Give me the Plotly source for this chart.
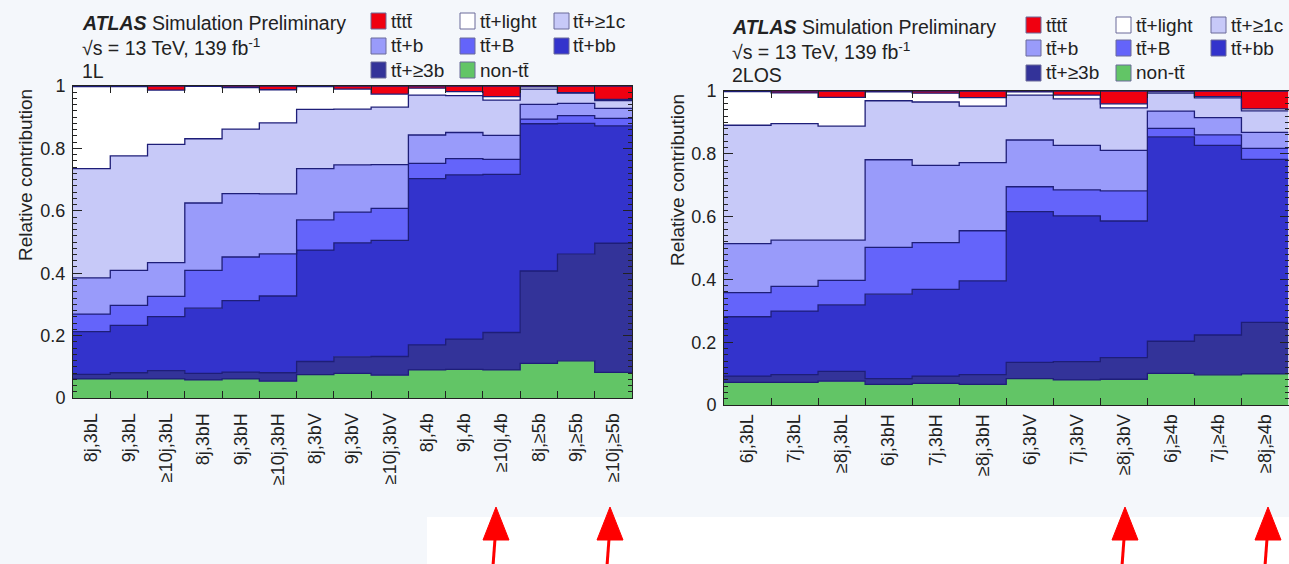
import numpy as np
import plotly.graph_objects as go

W, H = 1289, 564

# ---------------- data ----------------
series_names = ["non-tt\u0304", "tt\u0304+\u22653b", "tt\u0304+bb", "tt\u0304+B", "tt\u0304+b",
                "tt\u0304+\u22651c", "tt\u0304+light", "tt\u0304tt\u0304"]
series_colors = ["#62c566", "#333399", "#3333cc", "#6464fa", "#999bfa", "#c7c9f8", "#ffffff", "#f00010"]

cats_1l = ["8j,3bL", "9j,3bL", "\u226510j,3bL", "8j,3bH", "9j,3bH", "\u226510j,3bH",
           "8j,3bV", "9j,3bV", "\u226510j,3bV", "8j,4b", "9j,4b", "\u226510j,4b",
           "8j,\u22655b", "9j,\u22655b", "\u226510j,\u22655b"]
cats_2los = ["6j,3bL", "7j,3bL", "\u22658j,3bL", "6j,3bH", "7j,3bH", "\u22658j,3bH",
             "6j,3bV", "7j,3bV", "\u22658j,3bV", "6j,\u22654b", "7j,\u22654b", "\u22658j,\u22654b"]

# 1L region fractions
l1_nontt = [0.061, 0.061, 0.061, 0.058, 0.061, 0.054, 0.075, 0.079, 0.073, 0.090, 0.092, 0.090, 0.111, 0.119, 0.082]
l1_3b    = [0.015, 0.020, 0.027, 0.021, 0.022, 0.027, 0.042, 0.053, 0.060, 0.080, 0.097, 0.120, 0.296, 0.342, 0.414]
l1_bb    = [0.137, 0.152, 0.173, 0.209, 0.229, 0.246, 0.357, 0.365, 0.372, 0.533, 0.526, 0.507, 0.472, 0.419, 0.376]
l1_B     = [0.056, 0.064, 0.065, 0.121, 0.140, 0.135, 0.097, 0.099, 0.103, 0.049, 0.052, 0.048, 0.015, 0.025, 0.024]
l1_b     = [0.116, 0.112, 0.108, 0.216, 0.203, 0.192, 0.164, 0.151, 0.140, 0.091, 0.084, 0.077, 0.047, 0.039, 0.032]
l1_1c    = [0.350, 0.367, 0.379, 0.206, 0.207, 0.228, 0.190, 0.179, 0.184, 0.128, 0.118, 0.113, 0.049, 0.033, 0.025]
l1_light = [0.263, 0.222, 0.174, 0.168, 0.133, 0.106, 0.073, 0.064, 0.042, 0.022, 0.013, 0.011, 0.007, 0.002, 0.004]
l1_tttt  = [0.002, 0.002, 0.013, 0.001, 0.005, 0.012, 0.002, 0.010, 0.026, 0.007, 0.018, 0.034, 0.003, 0.021, 0.043]

# 2LOS region fractions
l2_nontt = [0.072, 0.072, 0.076, 0.066, 0.069, 0.066, 0.084, 0.080, 0.082, 0.101, 0.096, 0.099]
l2_3b    = [0.020, 0.025, 0.031, 0.018, 0.023, 0.031, 0.052, 0.058, 0.069, 0.102, 0.127, 0.164]
l2_bb    = [0.189, 0.202, 0.212, 0.269, 0.276, 0.298, 0.480, 0.464, 0.435, 0.651, 0.604, 0.519]
l2_B     = [0.077, 0.079, 0.078, 0.149, 0.149, 0.160, 0.079, 0.083, 0.096, 0.027, 0.033, 0.035]
l2_b     = [0.156, 0.147, 0.128, 0.279, 0.246, 0.217, 0.149, 0.142, 0.129, 0.055, 0.055, 0.051]
l2_1c    = [0.377, 0.371, 0.363, 0.188, 0.202, 0.180, 0.143, 0.148, 0.135, 0.057, 0.063, 0.069]
l2_light = [0.107, 0.098, 0.092, 0.028, 0.028, 0.027, 0.010, 0.012, 0.013, 0.004, 0.004, 0.006]
l2_tttt  = [0.002, 0.006, 0.020, 0.003, 0.007, 0.021, 0.003, 0.013, 0.041, 0.003, 0.018, 0.057]

y_tickvals = [0, 0.2, 0.4, 0.6, 0.8, 1.0]
y_ticktext = ["0", "0.2", "0.4", "0.6", "0.8", "1"]

# ---------------- helpers ----------------
FONT = "Liberation Sans, Arial, Helvetica, sans-serif"
OUTLINE = "#1e1e78"


def px(x):
    return x / W


def py(y):
    return 1 - y / H


fig = go.Figure()

panels = [
    dict(cats=cats_1l, data=[l1_nontt, l1_3b, l1_bb, l1_B, l1_b, l1_1c, l1_light, l1_tttt],
         xa="x", ya="y", xdom=(73, 632), ydom=(86, 398), label="1L",
         hx=80, hy=(23, 47, 71), sq=(371, 460, 554), tx=(389, 478, 571), ly=(21, 46, 70),
         ytitle=(25, 87), standoff=7),
    dict(cats=cats_2los, data=[l2_nontt, l2_3b, l2_bb, l2_B, l2_b, l2_1c, l2_light, l2_tttt],
         xa="x2", ya="y2", xdom=(724, 1288.5), ydom=(91, 405), label="2LOS",
         hx=730, hy=(27, 51, 75), sq=(1026, 1116, 1211), tx=(1044, 1134, 1229), ly=(25, 48, 73),
         ytitle=(677, 92), standoff=1),
]

shapes = []
annotations = []

for p in panels:
    n = len(p["cats"])
    arr = np.array(p["data"], dtype=float)
    cum = np.cumsum(arr, axis=0)
    edges = np.arange(n + 1)
    for i, (name, col) in enumerate(zip(series_names, series_colors)):
        yv = np.append(cum[i], cum[i][-1])
        fig.add_trace(go.Scatter(
            x=edges, y=yv, mode="lines", line=dict(shape="hv", color=OUTLINE, width=1.3),
            fill="tozeroy" if i == 0 else "tonexty", fillcolor=col,
            name=name, showlegend=False, hoverinfo="skip",
            xaxis=p["xa"], yaxis=p["ya"]))

    xkey = "xaxis" if p["xa"] == "x" else "xaxis2"
    ykey = "yaxis" if p["ya"] == "y" else "yaxis2"
    fig.update_layout(**{
        xkey: dict(domain=[px(p["xdom"][0]), px(p["xdom"][1])], range=[0, n], anchor=p["ya"],
                   tickmode="array", tickvals=[i + 0.5 for i in range(n)], ticktext=p["cats"],
                   tickangle=-90, ticks="", ticklabelstandoff=p["standoff"],
                   tickfont=dict(family=FONT, size=18, color="#222"),
                   minor=dict(tickmode="array", tickvals=list(range(1, n)), ticks="inside",
                              ticklen=7, tickcolor="#222", tickwidth=1),
                   showline=True, linecolor="#222", linewidth=1, mirror="ticks",
                   showgrid=False, zeroline=False, fixedrange=True, automargin=False),
        ykey: dict(domain=[py(p["ydom"][1]), py(p["ydom"][0])], range=[0, 1], anchor=p["xa"],
                   tickmode="array", tickvals=y_tickvals, ticktext=y_ticktext,
                   ticks="inside", ticklen=9, tickcolor="#222", ticklabelstandoff=3,
                   tickfont=dict(family=FONT, size=18, color="#222"),
                   minor=dict(dtick=0.02, tick0=0, ticks="inside", ticklen=4,
                              tickcolor="#222", tickwidth=1),
                   showline=True, linecolor="#222", linewidth=1, mirror="ticks",
                   showgrid=False, zeroline=False, fixedrange=True, automargin=False),
    })

    # header text
    header = ["<b><i>ATLAS</i></b> Simulation Preliminary",
              "\u221as = 13 TeV, 139 fb<sup>-1</sup>",
              p["label"]]
    for t, yy in zip(header, p["hy"]):
        annotations.append(dict(text=t, x=px(p["hx"]), y=py(yy), xref="paper", yref="paper",
                                xanchor="left", yanchor="middle", showarrow=False,
                                font=dict(family=FONT, size=19.5, color="#222")))

    # y axis title (top aligned, ROOT style)
    annotations.append(dict(text="Relative contribution", x=px(p["ytitle"][0]), y=py(p["ytitle"][1]),
                            xref="paper", yref="paper", xanchor="center", yanchor="top",
                            textangle=-90, showarrow=False,
                            font=dict(family=FONT, size=19, color="#222")))

    # legend grid (3 columns)
    grid = [(7, 0, 0), (6, 1, 0), (5, 2, 0),
            (4, 0, 1), (3, 1, 1), (2, 2, 1),
            (1, 0, 2), (0, 1, 2)]
    for si, c, r in grid:
        x0 = p["sq"][c]
        yc = p["ly"][r]
        shapes.append(dict(type="rect", xref="paper", yref="paper",
                           x0=px(x0), x1=px(x0 + 15), y0=py(yc + 8), y1=py(yc - 8),
                           fillcolor=series_colors[si], line=dict(color="#6a6a9a", width=1)))
        annotations.append(dict(text=series_names[si], x=px(p["tx"][c]), y=py(yc),
                                xref="paper", yref="paper", xanchor="left", yanchor="middle",
                                showarrow=False, font=dict(family=FONT, size=19, color="#222")))

# white lower-right background patch
shapes.insert(0, dict(type="rect", xref="paper", yref="paper", layer="below",
                      x0=px(427), x1=1, y0=0, y1=py(517),
                      fillcolor="#ffffff", line=dict(width=0)))

# red arrows
for tipx in [496, 610, 1125, 1268]:
    path = "M {},{} L {},{} L {},{} Z".format(px(tipx - 13), py(540), px(tipx), py(507),
                                               px(tipx + 13), py(540))
    shapes.append(dict(type="path", path=path, xref="paper", yref="paper",
                       fillcolor="#ff0000", line=dict(color="#ff0000", width=1)))
    shapes.append(dict(type="line", xref="paper", yref="paper",
                       x0=px(tipx - 1), y0=py(539), x1=px(tipx - 3), y1=py(566),
                       line=dict(color="#ff0000", width=3)))

fig.update_layout(
    width=W, height=H,
    margin=dict(l=0, r=0, t=0, b=0),
    paper_bgcolor="#f4f7fb",
    plot_bgcolor="#ffffff",
    showlegend=False,
    shapes=shapes,
    annotations=annotations,
    font=dict(family=FONT, color="#222"),
)

fig.write_html("out.html", config={"displayModeBar": False},
               post_script="document.body.style.margin='0';document.body.style.overflow='hidden';")
